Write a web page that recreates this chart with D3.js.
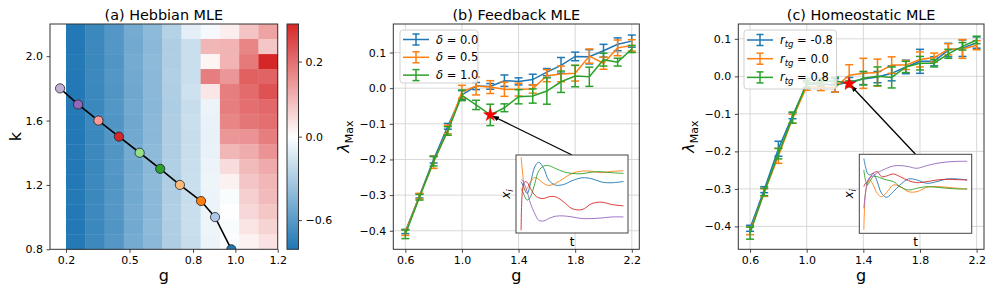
<!DOCTYPE html>
<html>
<head>
<meta charset="utf-8">
<script src="https://cdn.jsdelivr.net/npm/d3@7"></script>
<style>
  body { margin: 0; background: #fff; }
  svg text { font-family: "DejaVu Sans", sans-serif; fill: #000; }
</style>
</head>
<body>
<div id="chart"></div>
<script>
// ---- panel (a): Hebbian MLE heatmap ----
const gEdges = [0.2, 0.291, 0.382, 0.473, 0.564, 0.655, 0.745, 0.836, 0.927, 1.018, 1.109, 1.2];
const kEdges = [0.8, 0.893, 0.987, 1.08, 1.173, 1.267, 1.36, 1.453, 1.547, 1.64, 1.733, 1.827, 1.92, 2.013, 2.107, 2.2];
// rows listed from top (k = 2.2) to bottom (k = 0.8)
const mleRows = [
  [-0.80, -0.71, -0.62, -0.50, -0.41, -0.27, -0.10, -0.035, 0.024, 0.084, 0.128],
  [-0.80, -0.70, -0.62, -0.51, -0.42, -0.29, -0.19, 0.100, 0.105, 0.170, 0.078],
  [-0.79, -0.71, -0.63, -0.50, -0.41, -0.29, -0.19, 0.015, 0.105, 0.186, 0.300],
  [-0.80, -0.70, -0.62, -0.51, -0.42, -0.28, -0.19, 0.180, 0.145, 0.220, 0.216],
  [-0.80, -0.71, -0.63, -0.52, -0.42, -0.29, -0.18, 0.035, 0.180, 0.205, 0.240],
  [-0.79, -0.71, -0.62, -0.51, -0.43, -0.30, -0.20, -0.070, 0.180, 0.200, 0.210],
  [-0.80, -0.70, -0.63, -0.52, -0.42, -0.29, -0.19, -0.080, 0.170, 0.190, 0.200],
  [-0.80, -0.71, -0.62, -0.51, -0.42, -0.29, -0.20, -0.085, 0.145, 0.150, 0.180],
  [-0.79, -0.70, -0.63, -0.50, -0.41, -0.29, -0.19, -0.080, 0.100, 0.115, 0.150],
  [-0.80, -0.71, -0.62, -0.51, -0.42, -0.28, -0.19, -0.070, 0.050, 0.095, 0.117],
  [-0.80, -0.70, -0.63, -0.50, -0.41, -0.29, -0.19, -0.060, 0.020, 0.080, 0.100],
  [-0.79, -0.71, -0.62, -0.51, -0.42, -0.29, -0.20, -0.070, -0.020, 0.066, 0.095],
  [-0.80, -0.70, -0.62, -0.50, -0.42, -0.28, -0.19, -0.070, -0.003, 0.056, 0.078],
  [-0.80, -0.71, -0.63, -0.51, -0.41, -0.29, -0.19, -0.060, -0.020, 0.037, 0.060],
  [-0.79, -0.70, -0.62, -0.50, -0.42, -0.29, -0.20, -0.070, -0.015, 0.018, 0.040]
];
const vMin = -0.81, vMax = 0.3;
const cbarTicks = [0.2, 0.0, -0.6];
const pathG = [0.172, 0.257, 0.353, 0.450, 0.548, 0.645, 0.738, 0.838, 0.904, 0.981];
const pathK = [1.8, 1.7, 1.6, 1.5, 1.4, 1.3, 1.2, 1.1, 1.0, 0.8];
const pathColors = ["#c5b0d5", "#9467bd", "#ff9896", "#d62728", "#98df8a", "#2ca02c", "#ffbb78", "#ff7f0e", "#aec7e8", "#1f77b4"];
const aTicksX = [0.2, 0.5, 0.8, 1.0, 1.2];
const aTicksY = [0.8, 1.2, 1.6, 2.0];

// ---- panels (b) and (c): MLE vs g with error bars ----
const gSteps = [0.6, 0.7, 0.8, 0.9, 1.0, 1.1, 1.2, 1.3, 1.4, 1.5, 1.6, 1.7, 1.8, 1.9, 2.0, 2.1, 2.2];
const fbDelta00 = [-0.402, -0.302, -0.200, -0.107, -0.019, 0.006, 0.005, 0.021, 0.019, 0.024, 0.045, 0.064, 0.089, 0.088, 0.105, 0.123, 0.132];
const fbDelta00Err = [0.006, 0.006, 0.010, 0.008, 0.012, 0.010, 0.008, 0.016, 0.010, 0.015, 0.010, 0.022, 0.012, 0.020, 0.018, 0.018, 0.017];
const fbDelta05 = [-0.405, -0.303, -0.208, -0.116, -0.010, 0.006, 0.003, -0.003, -0.004, -0.002, 0.035, 0.040, 0.042, 0.090, 0.070, 0.113, 0.120];
const fbDelta05Err = [0.008, 0.008, 0.017, 0.012, 0.018, 0.025, 0.018, 0.020, 0.018, 0.012, 0.017, 0.022, 0.022, 0.020, 0.017, 0.022, 0.016];
const fbDelta10 = [-0.410, -0.306, -0.205, -0.120, -0.020, -0.047, -0.075, -0.055, -0.024, -0.022, -0.008, 0.018, 0.034, 0.032, 0.080, 0.073, 0.110];
const fbDelta10Err = [0.012, 0.008, 0.013, 0.012, 0.015, 0.013, 0.030, 0.011, 0.020, 0.020, 0.037, 0.030, 0.030, 0.027, 0.018, 0.011, 0.010];
const fbLabels = ["0.0", "0.5", "1.0"];
const fbStar = { g: 1.2, v: -0.075 };

const hsNeg08 = [-0.405, -0.302, -0.193, -0.105, -0.022, -0.020, -0.024, -0.015, -0.007, -0.002, 0.008, 0.025, 0.040, 0.040, 0.070, 0.075, 0.090];
const hsNeg08Err = [0.008, 0.008, 0.020, 0.008, 0.010, 0.008, 0.018, 0.012, 0.015, 0.015, 0.020, 0.018, 0.032, 0.012, 0.018, 0.022, 0.015];
const hsZero = [-0.412, -0.310, -0.212, -0.113, -0.027, -0.030, -0.030, 0.003, 0.008, 0.010, 0.030, 0.030, 0.045, 0.050, 0.072, 0.073, 0.083];
const hsZeroErr = [0.010, 0.010, 0.020, 0.012, 0.010, 0.008, 0.012, 0.028, 0.040, 0.036, 0.022, 0.012, 0.020, 0.012, 0.015, 0.025, 0.012];
const hsPos08 = [-0.418, -0.308, -0.206, -0.110, -0.018, -0.015, -0.012, -0.020, -0.005, 0.000, -0.003, 0.025, 0.035, 0.035, 0.060, 0.080, 0.097];
const hsPos08Err = [0.016, 0.010, 0.014, 0.015, 0.012, 0.010, 0.010, 0.008, 0.018, 0.025, 0.028, 0.015, 0.018, 0.010, 0.012, 0.010, 0.010];
const hsLabels = ["-0.8", "0.0", "0.8"];
const hsStar = { g: 1.3, v: -0.02 };

const lineTicksX = [0.6, 1.0, 1.4, 1.8, 2.2];
const lineTicksY = [-0.4, -0.3, -0.2, -0.1, 0.0, 0.1];

// ---- inset traces x_i(t), arbitrary units ----
const insetBT = [0.006, 0.023, 0.042, 0.065, 0.097, 0.139, 0.177, 0.226, 0.274, 0.339, 0.419, 0.5, 0.597, 0.694, 0.79, 0.887, 1.0];
const insetBBlue   = [0.657, 0.614, 0.549, 0.506, 0.635, 0.850, 0.906, 0.828, 0.678, 0.614, 0.622, 0.670, 0.708, 0.695, 0.652, 0.644, 0.661];
const insetBOrange = [0.970, 0.742, 0.549, 0.571, 0.657, 0.712, 0.687, 0.635, 0.609, 0.635, 0.700, 0.764, 0.794, 0.790, 0.773, 0.790, 0.798];
const insetBGreen  = [0.571, 0.528, 0.464, 0.421, 0.464, 0.635, 0.798, 0.858, 0.863, 0.828, 0.785, 0.764, 0.760, 0.781, 0.785, 0.773, 0.764];
const insetBRed    = [0.034, 0.592, 0.657, 0.648, 0.571, 0.485, 0.451, 0.442, 0.464, 0.464, 0.399, 0.313, 0.300, 0.378, 0.395, 0.365, 0.348];
const insetBPurple = [0.687, 0.670, 0.614, 0.528, 0.378, 0.249, 0.163, 0.155, 0.185, 0.215, 0.219, 0.206, 0.185, 0.185, 0.193, 0.206, 0.206];

const insetCT = [0, 0.016, 0.036, 0.058, 0.091, 0.130, 0.172, 0.221, 0.286, 0.351, 0.432, 0.513, 0.610, 0.708, 0.805, 0.903, 1.0];
const insetCBlue   = [0.949, 0.844, 0.759, 0.738, 0.759, 0.654, 0.506, 0.456, 0.527, 0.612, 0.688, 0.675, 0.633, 0.654, 0.688, 0.688, 0.675];
const insetCOrange = [0.042, 0.506, 0.633, 0.675, 0.612, 0.506, 0.464, 0.515, 0.612, 0.591, 0.527, 0.527, 0.582, 0.591, 0.582, 0.570, 0.561];
const insetCGreen  = [0.802, 0.675, 0.612, 0.654, 0.717, 0.717, 0.696, 0.675, 0.654, 0.591, 0.549, 0.570, 0.591, 0.582, 0.570, 0.561, 0.561];
const insetCRed    = [0.591, 0.633, 0.654, 0.696, 0.759, 0.781, 0.717, 0.726, 0.751, 0.717, 0.667, 0.641, 0.654, 0.675, 0.684, 0.679, 0.675];
const insetCPurple = [0.316, 0.506, 0.654, 0.709, 0.726, 0.768, 0.793, 0.823, 0.852, 0.857, 0.844, 0.823, 0.857, 0.886, 0.903, 0.911, 0.911];

const tab = ["#1f77b4", "#ff7f0e", "#2ca02c", "#d62728", "#9467bd"];

// ------------------------------------------------------------------
const W = 997, H = 293;
const svg = d3.select("#chart").append("svg").attr("width", W).attr("height", H);
const defs = svg.append("defs");
const fmt = d3.format(".1f");

const A = { l: 50, r: 277.7, t: 24, b: 249.3 };
const CB = { l: 287, r: 298.5 };
const B = { l: 393.3, r: 639.3, t: 24, b: 249.3 };
const C = { l: 738.3, r: 984, t: 24, b: 249.3 };

function styleAxis(g) {
    g.select(".domain").remove();
    g.selectAll(".tick line").attr("stroke", "#333").attr("stroke-width", 0.9);
    g.selectAll(".tick text").style("font-size", "11px").attr("fill", "#000");
    g.attr("font-family", null).attr("font-size", null);
}

function frame(p) {
    svg.append("rect")
        .attr("x", p.l).attr("y", p.t)
        .attr("width", p.r - p.l).attr("height", p.b - p.t)
        .attr("fill", "none").attr("stroke", "#333").attr("stroke-width", 1);
}

function title(p, txt) {
    svg.append("text")
        .attr("x", (p.l + p.r) / 2).attr("y", 20)
        .attr("text-anchor", "middle")
        .style("font-size", "14.4px")
        .text(txt);
}

function xLabel(p, txt) {
    svg.append("text")
        .attr("x", (p.l + p.r) / 2).attr("y", 281)
        .attr("text-anchor", "middle")
        .style("font-size", "16px")
        .text(txt);
}

// ================= panel (a) =================
const xA = d3.scaleLinear().domain([0.1244, 1.2]).range([A.l, A.r]);
const yA = d3.scaleLinear().domain([0.8, 2.2]).range([A.b, A.t]);
const color = d3.scaleLinear().domain([vMin, 0, vMax]).range(["#1f77b4", "#ffffff", "#d62728"]).clamp(true);

const cells = [];
mleRows.forEach((row, r) => {
    const j = mleRows.length - 1 - r;
    row.forEach((v, i) => cells.push({ g0: gEdges[i], g1: gEdges[i + 1], k0: kEdges[j], k1: kEdges[j + 1], v }));
});

svg.append("g").selectAll("rect")
    .data(cells)
    .join("rect")
    .attr("x", d => xA(d.g0))
    .attr("y", d => yA(d.k1))
    .attr("width", d => xA(d.g1) - xA(d.g0) + 0.4)
    .attr("height", d => yA(d.k0) - yA(d.k1) + 0.4)
    .attr("fill", d => color(d.v));

defs.append("clipPath").attr("id", "clipA")
    .append("rect").attr("x", A.l).attr("y", A.t).attr("width", A.r - A.l).attr("height", A.b - A.t);

const pathGroup = svg.append("g").attr("clip-path", "url(#clipA)");
const pts = pathG.map((g, i) => ({ g, k: pathK[i], c: pathColors[i] }));
pathGroup.append("path")
    .datum(pts)
    .attr("d", d3.line().x(d => xA(d.g)).y(d => yA(d.k)))
    .attr("fill", "none").attr("stroke", "#000").attr("stroke-width", 1.6);
pathGroup.selectAll("circle")
    .data(pts)
    .join("circle")
    .attr("cx", d => xA(d.g)).attr("cy", d => yA(d.k))
    .attr("r", 4.6)
    .attr("fill", d => d.c)
    .attr("stroke", "#222").attr("stroke-width", 0.8);

svg.append("g").attr("transform", `translate(0,${A.b})`)
    .call(d3.axisBottom(xA).tickValues(aTicksX).tickFormat(fmt).tickSize(3.5).tickPadding(3.5))
    .call(styleAxis);
svg.append("g").attr("transform", `translate(${A.l},0)`)
    .call(d3.axisLeft(yA).tickValues(aTicksY).tickFormat(fmt).tickSize(3.5).tickPadding(3.5))
    .call(styleAxis);
frame(A);
title(A, "(a) Hebbian MLE");
xLabel(A, "g");
svg.append("text")
    .attr("transform", `translate(21,${(A.t + A.b) / 2}) rotate(-90)`)
    .attr("text-anchor", "middle")
    .style("font-size", "16px")
    .text("k");

// colorbar
const yCb = d3.scaleLinear().domain([vMin, 0, vMax]).range([A.b, (A.t + A.b) / 2, A.t]);
const grad = defs.append("linearGradient").attr("id", "cbGrad")
    .attr("x1", 0).attr("y1", 1).attr("x2", 0).attr("y2", 0);
grad.append("stop").attr("offset", "0%").attr("stop-color", color(vMin));
grad.append("stop").attr("offset", "50%").attr("stop-color", color(0));
grad.append("stop").attr("offset", "100%").attr("stop-color", color(vMax));
svg.append("rect")
    .attr("x", CB.l).attr("y", A.t)
    .attr("width", CB.r - CB.l).attr("height", A.b - A.t)
    .attr("fill", "url(#cbGrad)");
svg.append("g").attr("transform", `translate(${CB.r},0)`)
    .call(d3.axisRight(yCb).tickValues(cbarTicks).tickFormat(fmt).tickSize(3.5).tickPadding(3.5))
    .call(styleAxis);
frame({ l: CB.l, r: CB.r, t: A.t, b: A.b });

// ================= panels (b), (c) =================
function linePanel(P, xDom, yDom, series, labels, legendBox, legendMath, star, inset) {
    const x = d3.scaleLinear().domain(xDom).range([P.l, P.r]);
    const y = d3.scaleLinear().domain(yDom).range([P.b, P.t]);

    const grid = svg.append("g").attr("stroke", "#d4d4d4").attr("stroke-width", 0.9);
    lineTicksX.forEach(t => grid.append("line").attr("x1", x(t)).attr("x2", x(t)).attr("y1", P.t).attr("y2", P.b));
    lineTicksY.forEach(t => grid.append("line").attr("x1", P.l).attr("x2", P.r).attr("y1", y(t)).attr("y2", y(t)));

    series.forEach(s => {
        const gS = svg.append("g").attr("stroke", s.color).attr("stroke-width", 1.5).attr("fill", "none");
        gS.append("path")
            .datum(s.vals)
            .attr("d", d3.line().x((d, i) => x(gSteps[i])).y(d => y(d)));
        s.vals.forEach((v, i) => {
            const cx = x(gSteps[i]);
            const y0 = y(v - s.err[i]), y1 = y(v + s.err[i]);
            gS.append("line").attr("x1", cx).attr("x2", cx).attr("y1", y0).attr("y2", y1);
            gS.append("line").attr("x1", cx - 4).attr("x2", cx + 4).attr("y1", y0).attr("y2", y0);
            gS.append("line").attr("x1", cx - 4).attr("x2", cx + 4).attr("y1", y1).attr("y2", y1);
        });
    });

    svg.append("g").attr("transform", `translate(0,${P.b})`)
        .call(d3.axisBottom(x).tickValues(lineTicksX).tickFormat(fmt).tickSize(3.5).tickPadding(3.5))
        .call(styleAxis);
    svg.append("g").attr("transform", `translate(${P.l},0)`)
        .call(d3.axisLeft(y).tickValues(lineTicksY).tickFormat(fmt).tickSize(3.5).tickPadding(3.5))
        .call(styleAxis);

    // legend
    const lg = svg.append("g");
    lg.append("rect")
        .attr("x", legendBox.x).attr("y", legendBox.y)
        .attr("width", legendBox.w).attr("height", legendBox.h)
        .attr("rx", 3)
        .attr("fill", "#fff").attr("fill-opacity", 0.8)
        .attr("stroke", "#cccccc").attr("stroke-width", 0.9);
    series.forEach((s, i) => {
        const cy = legendBox.y + legendBox.row0 + i * legendBox.step;
        const hx0 = legendBox.x + 3, hx1 = legendBox.x + 29, hc = (hx0 + hx1) / 2;
        const h = lg.append("g").attr("stroke", s.color).attr("stroke-width", 1.5);
        h.append("line").attr("x1", hx0).attr("x2", hx1).attr("y1", cy).attr("y2", cy);
        h.append("line").attr("x1", hc).attr("x2", hc).attr("y1", cy - 5.5).attr("y2", cy + 5.5);
        h.append("line").attr("x1", hc - 3.5).attr("x2", hc + 3.5).attr("y1", cy - 5.5).attr("y2", cy - 5.5);
        h.append("line").attr("x1", hc - 3.5).attr("x2", hc + 3.5).attr("y1", cy + 5.5).attr("y2", cy + 5.5);
        const t = lg.append("text").attr("x", legendBox.x + 36).attr("y", cy + 4).style("font-size", "11.5px");
        legendMath(t, labels[i]);
    });

    // inset
    const ix = d3.scaleLinear().domain([0, 1]).range([inset.box.l + 4.5, inset.box.r - 4.5]);
    const iy = d3.scaleLinear().domain([0, 1]).range([inset.box.b, inset.box.t]);
    const anchorX = (inset.box.l + inset.box.r) / 2;
    const sx = x(star.g), sy = y(star.v);
    const ang = Math.atan2(sy - inset.box.t, sx - anchorX);
    svg.append("line")
        .attr("x1", anchorX).attr("y1", inset.box.t)
        .attr("x2", sx - Math.cos(ang) * 3).attr("y2", sy - Math.sin(ang) * 3)
        .attr("stroke", "#000").attr("stroke-width", 1.3)
        .attr("marker-end", "url(#arrowHead)");
    svg.append("path")
        .attr("d", d3.symbol().type(d3.symbolStar).size(55)())
        .attr("transform", `translate(${sx},${sy})`)
        .attr("fill", "#ff0000").attr("stroke", "#e00000").attr("stroke-width", 0.5);

    svg.append("rect")
        .attr("x", inset.box.l).attr("y", inset.box.t)
        .attr("width", inset.box.r - inset.box.l).attr("height", inset.box.b - inset.box.t)
        .attr("fill", "#fff").attr("stroke", "#444").attr("stroke-width", 1);
    inset.traces.forEach((tr, i) => {
        svg.append("path")
            .datum(tr)
            .attr("d", d3.line().curve(d3.curveCatmullRom).x((d, j) => ix(inset.t[j])).y(d => iy(d)))
            .attr("fill", "none").attr("stroke", tab[i]).attr("stroke-width", 0.9);
    });
    const xl = svg.append("text")
        .attr("transform", `translate(${inset.box.l - 6},${(inset.box.t + inset.box.b) / 2}) rotate(-90)`)
        .attr("text-anchor", "middle")
        .style("font-size", "12px");
    xl.append("tspan").style("font-style", "italic").text("x");
    xl.append("tspan").style("font-style", "italic").style("font-size", "8.5px").attr("dy", 3).text("i");
    svg.append("text")
        .attr("x", anchorX).attr("y", inset.box.b + 13)
        .attr("text-anchor", "middle")
        .style("font-size", "12px")
        .text("t");

    frame(P);
    xLabel(P, "g");
    const yl = svg.append("text")
        .attr("transform", `translate(${P.l - 44},${(P.t + P.b) / 2}) rotate(-90)`)
        .attr("text-anchor", "middle")
        .style("font-size", "16px");
    yl.append("tspan").style("font-style", "italic").text("λ");
    yl.append("tspan").style("font-size", "11px").attr("dy", 4).text("Max");
}

defs.append("marker").attr("id", "arrowHead")
    .attr("viewBox", "0 0 10 10").attr("refX", 9).attr("refY", 5)
    .attr("markerWidth", 5).attr("markerHeight", 5)
    .attr("markerUnits", "strokeWidth")
    .attr("orient", "auto")
    .append("path").attr("d", "M0,1 L10,5 L0,9 z").attr("fill", "#000");

linePanel(B, [0.515, 2.253], [-0.452, 0.18],
    [
        { vals: fbDelta00, err: fbDelta00Err, color: tab[0] },
        { vals: fbDelta05, err: fbDelta05Err, color: tab[1] },
        { vals: fbDelta10, err: fbDelta10Err, color: tab[2] }
    ],
    fbLabels,
    { x: 400, y: 30, w: 78, h: 53, row0: 9.5, step: 17.8 },
    (t, lab) => {
        t.append("tspan").style("font-style", "italic").text("δ");
        t.append("tspan").text(" = " + lab);
    },
    fbStar,
    { box: { l: 516, r: 628, t: 155, b: 233 }, t: insetBT,
      traces: [insetBBlue, insetBOrange, insetBGreen, insetBRed, insetBPurple] });
title(B, "(b) Feedback MLE");

linePanel(C, [0.517, 2.252], [-0.461, 0.1395],
    [
        { vals: hsNeg08, err: hsNeg08Err, color: tab[0] },
        { vals: hsZero, err: hsZeroErr, color: tab[1] },
        { vals: hsPos08, err: hsPos08Err, color: tab[2] }
    ],
    hsLabels,
    { x: 744, y: 30, w: 92.5, h: 59, row0: 10, step: 18.7 },
    (t, lab) => {
        t.append("tspan").style("font-style", "italic").text("r");
        t.append("tspan").style("font-style", "italic").style("font-size", "8.5px").attr("dy", 3).text("tg");
        t.append("tspan").attr("dy", -3).text(" = " + lab);
    },
    hsStar,
    { box: { l: 859.3, r: 971.7, t: 154.3, b: 233.3 }, t: insetCT,
      traces: [insetCBlue, insetCOrange, insetCGreen, insetCRed, insetCPurple] });
title(C, "(c) Homeostatic MLE");
</script>
</body>
</html>
